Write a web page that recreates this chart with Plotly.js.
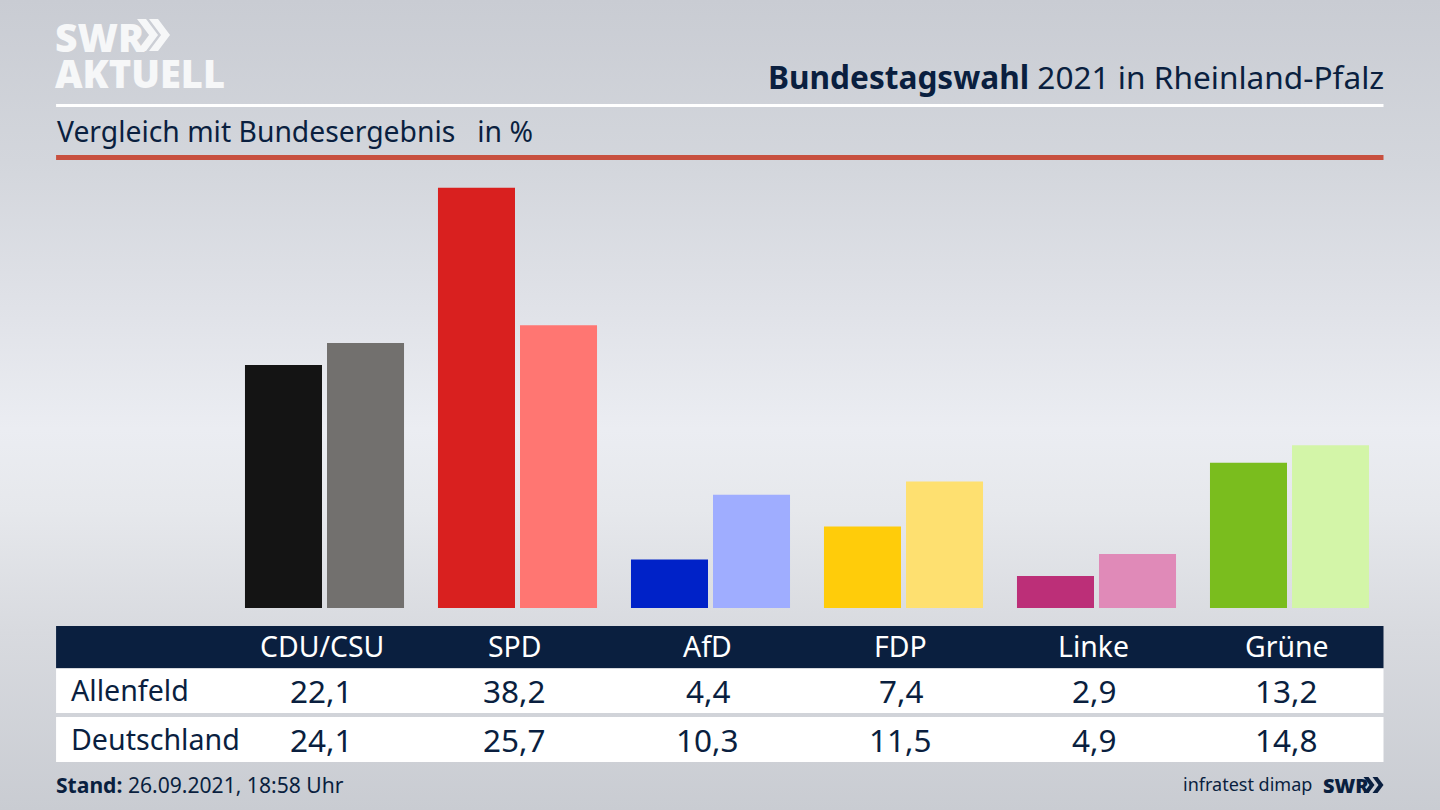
<!DOCTYPE html>
<html><head><meta charset="utf-8">
<script src="https://cdn.plot.ly/plotly-3.0.1.min.js"></script>
<style>
html,body{margin:0;padding:0;width:1440px;height:810px;overflow:hidden;
background:linear-gradient(180deg,#c9ccd3 0%,#d3d6dc 20%,#e0e2e8 38%,#ebedf2 53%,#e6e8ec 63%,#d8dadf 78%,#c9ccd2 100%);}
</style></head><body>
<div id="chart" style="width:1440px;height:810px"></div>
<script>
const categories = ["CDU/CSU","SPD","AfD","FDP","Linke","Grüne"];
const allenfeld = [22.1,38.2,4.4,7.4,2.9,13.2];
const deutschland = [24.1,25.7,10.3,11.5,4.9,14.8];
const allenfeldColors = ["#141414","#d9201f","#0022c8","#ffcc0a","#bc2f78","#7abd1e"];
const deutschlandColors = ["#72706e","#ff7672","#9fadff","#fee070","#e08ab8","#d3f5a8"];
const rowNames = ["Allenfeld","Deutschland"];
const fmt = v => v.toFixed(1).replace(".",",");

const L=228, R=1386.5, T=160, B=608;
const NAVY="#0a1f3f", FONT='"Noto Sans", sans-serif';
const px = x => (x-L)/(R-L), py = y => (B-y)/(B-T);
const rect = (x0,y0,x1,y1,c) => ({type:"rect",xref:"paper",yref:"paper",layer:"below",
  x0:px(x0),x1:px(x1),y0:py(y0),y1:py(y1),fillcolor:c,line:{width:0}});
const chevron = (x,y,w,h,t,c) => ({type:"path",xref:"paper",yref:"paper",layer:"above",fillcolor:c,line:{width:0},
  path:`M${px(x)},${py(y)} L${px(x+t)},${py(y)} L${px(x+t+w)},${py(y+h/2)} L${px(x+t)},${py(y+h)} L${px(x)},${py(y+h)} L${px(x+w)},${py(y+h/2)} Z`});
const txt = (text,x,y,size,color,anchor,extra) => Object.assign({text,xref:"paper",yref:"paper",
  x:px(x),y:py(y),xanchor:anchor||"left",yanchor:"middle",showarrow:false,
  font:{family:FONT,size,color},borderpad:0,borderwidth:0},extra||{});

const logo = txt('<span style="font-size:39px">SWR</span><br><span style="font-size:38px">AKTUELL</span>',55,54,28,"#f6f7f8","left",{align:"left"});
logo.font.weight = 900;
const smallSwr = txt("SWR",1323,785,20,NAVY);
smallSwr.font.weight = 900;

const annotations = [
  logo,
  txt("<b>Bundestagswahl</b> 2021 in Rheinland-Pfalz",1384,77,31.6,NAVY,"right"),
  txt("Vergleich mit Bundesergebnis&nbsp;&nbsp;&nbsp;in %",57,131,28.3,NAVY),
  txt(rowNames[0],71,689,28.6,NAVY),
  txt(rowNames[1],71,738,28.6,NAVY),
  txt("<b>Stand:</b> 26.09.2021, 18:58 Uhr",56,784,21.1,NAVY),
  txt("infratest dimap",1312,784,18,NAVY,"right"),
  smallSwr
];
categories.forEach((c,i)=>{
  const base={xref:"x",yref:"paper",x:c,xshift:-3,xanchor:"center",yanchor:"middle",showarrow:false};
  annotations.push(Object.assign({},base,{text:c,y:py(646),font:{family:FONT,size:28.4,color:"#ffffff"}}));
  annotations.push(Object.assign({},base,{text:fmt(allenfeld[i]),y:py(690),font:{family:FONT,size:31.5,color:NAVY}}));
  annotations.push(Object.assign({},base,{text:fmt(deutschland[i]),y:py(739),font:{family:FONT,size:31.5,color:NAVY}}));
});

const shapes = [
  rect(56,104,1384,107,"#ffffff"),
  rect(56,155,1384,160,"#c8503f"),
  rect(56,626,1384,668,NAVY),
  rect(56,669,1384,713,"#ffffff"),
  rect(56,717,1384,762,"#ffffff"),
  chevron(137,19,12,32,9,"#f6f7f8"),
  chevron(149,19,12,32,9,"#f6f7f8"),
  chevron(1364,777,6,16,5,NAVY),
  chevron(1373,777,6,16,5,NAVY)
];

Plotly.newPlot("chart",[
  {type:"bar",name:rowNames[0],x:categories,y:allenfeld,marker:{color:allenfeldColors,line:{width:0}},hoverinfo:"skip"},
  {type:"bar",name:rowNames[1],x:categories,y:deutschland,marker:{color:deutschlandColors,line:{width:0}},hoverinfo:"skip"}
],{
  width:1440,height:810,
  margin:{l:L,r:1440-R,t:T,b:810-B,pad:0},
  paper_bgcolor:"rgba(0,0,0,0)",plot_bgcolor:"rgba(0,0,0,0)",
  barmode:"group",bargap:0.15,bargroupgap:0.061,showlegend:false,
  xaxis:{type:"category",categoryorder:"array",categoryarray:categories,range:[-0.5,5.5],visible:false},
  yaxis:{range:[0,(B-T)/11.0],visible:false},
  shapes,annotations
},{displayModeBar:false,staticPlot:true});
</script>
</body></html>
